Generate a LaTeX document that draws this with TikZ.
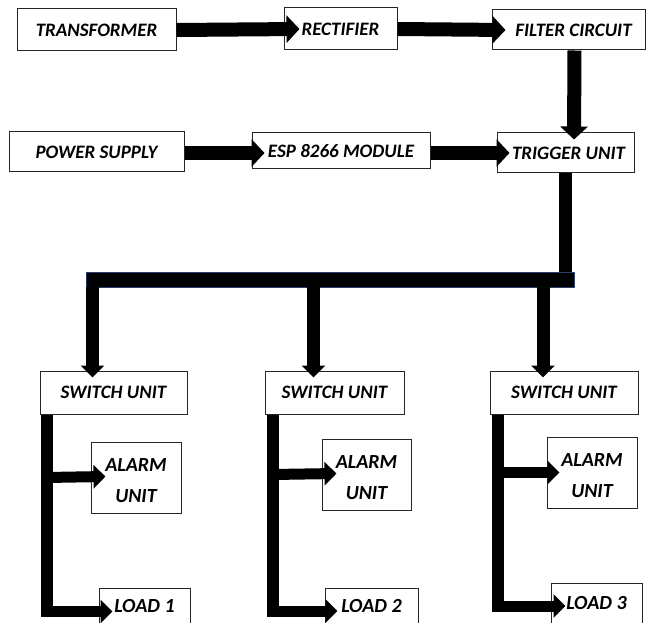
\documentclass[tikz,border=0pt]{standalone}
\usepackage{fontspec}
\setmainfont{Carlito}
\usepackage{tikz}
\usetikzlibrary{arrows.meta,positioning,calc}
\definecolor{barblue}{RGB}{40,60,110}

\begin{document}
\begin{tikzpicture}[
    x=1pt, y=-1pt,
    blk/.style={draw=black!85, line width=1pt, fill=white, inner sep=2pt, text centered, font=\fontsize{19}{22}\selectfont\bfseries\itshape},
    big/.style={blk, font=\fontsize{20}{30}\selectfont\bfseries\itshape, align=center},
    alarmtxt/.style={font=\fontsize{20}{31}\selectfont\bfseries\itshape, align=center, inner sep=0pt, yshift=-3.5pt},
    harrow/.style={line width=14pt, -{Triangle[length=13pt,width=27pt]}},
    drop/.style={line width=13pt, -{Triangle[length=12pt,width=23pt]}},
    branch/.style={line width=11pt, -{Triangle[length=12pt,width=23pt]}},
    vline/.style={line width=12pt}
]
\useasboundingbox (0,0) rectangle (646,623);

% top row
\node[blk, minimum width=159pt, minimum height=42pt] (transformer) at (96.5, 30) {TRANSFORMER};
\node[blk, minimum width=113pt, minimum height=42pt] (rectifier) at (340.5, 29) {RECTIFIER};
\node[blk, minimum width=153pt, minimum height=40pt] (filter) at (568.5, 30) {\hspace{10pt}FILTER CIRCUIT};

% second row
\node[blk, minimum width=175pt, minimum height=40pt] (supply) at (96.5, 152) {POWER SUPPLY};
\node[blk, minimum width=178pt, minimum height=36pt] (esp) at (341, 151) {ESP 8266 MODULE};
\node[blk, minimum width=137pt, minimum height=40pt] (trigger) at (565.5, 153) {\hspace{6pt}TRIGGER UNIT};

% switch units
\node[blk, minimum width=147pt, minimum height=43pt] (sw1) at (113.5, 392.5) {SWITCH UNIT};
\node[blk, minimum width=139pt, minimum height=43pt] (sw2) at (334.5, 392.5) {SWITCH UNIT};
\node[blk, minimum width=148pt, minimum height=43pt] (sw3) at (564, 392.5) {SWITCH UNIT};

% alarms and loads
\node[big, minimum width=90pt, minimum height=71pt, label={[alarmtxt]center:ALARM\\UNIT}] (alarm1) at (136, 477.5) {};
\node[big, minimum width=89pt, minimum height=71pt, label={[alarmtxt]center:ALARM\\UNIT}] (alarm2) at (366.5, 474.5) {};
\node[big, minimum width=90pt, minimum height=71pt, label={[alarmtxt]center:ALARM\\UNIT}] (alarm3) at (592, 472.5) {};
\node[big, minimum width=91pt, minimum height=36pt] (load1) at (144.5, 606) {LOAD 1};
\node[big, minimum width=93pt, minimum height=36pt] (load2) at (371.5, 606) {LOAD 2};
\node[big, minimum width=91pt, minimum height=40pt] (load3) at (596.5, 603) {LOAD 3};

% arrows of the upper part
\draw[harrow] (transformer.east) -- ([xshift=16pt]rectifier.west);
\draw[harrow] (rectifier.east) -- ([xshift=14pt]filter.west);
\draw[harrow] ([xshift=6pt]filter.south) -- ([xshift=8.5pt,yshift=-7pt]trigger.north);
\draw[harrow] ([yshift=-1pt]supply.east) -- ([xshift=13pt,yshift=-2pt]esp.west);
\draw[harrow] ([yshift=-2pt]esp.east) -- ([xshift=13pt]trigger.west);

% bus to the switch units
\coordinate (busL) at (86, 272);
\coordinate (busR) at (574, 287);
\draw[vline, line width=13pt] (trigger.south) -- (trigger.south |- busL);
\filldraw[fill=black, draw=barblue, line width=1pt] (busL) rectangle (busR);
\foreach \i in {1,2,3}
    \draw[drop] ([xshift=-21pt]sw\i.north |- busR) -- ([xshift=-21pt,yshift=-7pt]sw\i.north);

% switch unit outputs
\draw[vline] ([xshift=7pt]sw1.south west) -- ++(0,198);
\draw[branch] ([xshift=7pt]sw1.south west |- alarm1.west) -- ([xshift=15pt,yshift=1pt]alarm1.west);
\draw[branch] ([xshift=1pt,yshift=-5.5pt]sw1.south west |- load1.west) -- ([xshift=14pt,yshift=-5.5pt]load1.west);
\draw[vline] ([xshift=8.5pt]sw2.south west) -- ++(0,197);
\draw[branch] ([xshift=8.5pt]sw2.south west |- alarm2.west) -- ([xshift=15pt,yshift=1pt]alarm2.west);
\draw[branch] ([xshift=2.5pt,yshift=-5pt]sw2.south west |- load2.west) -- ([xshift=13pt,yshift=-5pt]load2.west);
\draw[vline] ([xshift=8pt]sw3.south west) -- ++(0,194);
\draw[branch] ([xshift=8pt]sw3.south west |- alarm3.west) -- ([xshift=13pt,yshift=0pt]alarm3.west);
\draw[branch] ([xshift=2pt,yshift=-3pt]sw3.south west |- load3.west) -- ([xshift=15pt,yshift=-3pt]load3.west);
\end{tikzpicture}
\end{document}
